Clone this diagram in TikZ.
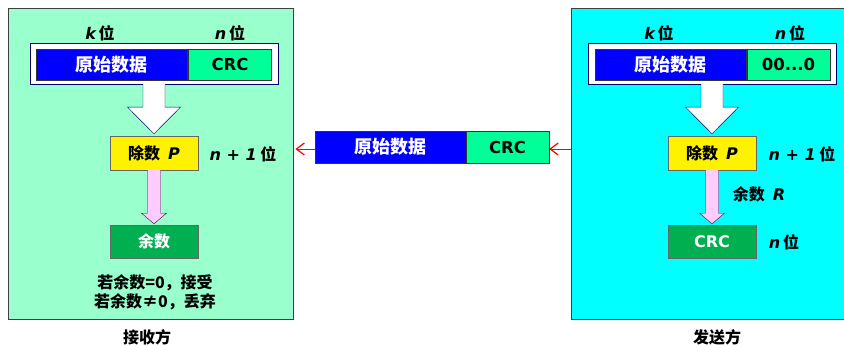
\documentclass[tikz,border=0pt]{standalone}
\usepackage{fontspec}
\setmainfont{Noto Sans CJK SC}
\newfontfamily\lat{DejaVu Sans}
\usetikzlibrary{calc,arrows.meta}
\definecolor{mint}{RGB}{153,255,204}
\definecolor{sendcyan}{RGB}{0,255,255}
\definecolor{crcgreen}{RGB}{0,255,153}
\definecolor{remgreen}{RGB}{0,176,80}
\definecolor{pinkish}{RGB}{255,204,255}
\newcommand\ivar[1]{{\lat\bfseries\itshape #1}}
\begin{document}
\begin{tikzpicture}[x=1pt,y=-1pt,font=\bfseries,
  panel/.style={draw=black!75,line width=0.8pt,inner sep=0pt},
  frame/.style={draw=blue!40!black,fill=white,minimum width=248pt,minimum height=41pt,inner sep=0pt},
  data/.style={draw=black!80,fill=blue,text=white,minimum width=151pt,minimum height=31pt,inner sep=0pt,font=\bfseries\fontsize{18}{20}\selectfont},
  crc/.style={draw=black!80,fill=crcgreen,minimum width=83pt,minimum height=31pt,inner sep=0pt,font=\lat\bfseries\fontsize{16.5}{20}\selectfont},
  divbox/.style={draw=black!60,fill=yellow,minimum width=88pt,minimum height=34pt,inner sep=0pt,font=\bfseries\fontsize{16}{18}\selectfont},
  rembox/.style={draw=black!60,fill=remgreen,text=white,minimum width=88pt,minimum height=33pt,inner sep=0pt,font=\bfseries\fontsize{16}{18}\selectfont},
  lbl/.style={font=\bfseries\fontsize{16}{18}\selectfont},
  bigarrow/.style={draw=blue!40!black,fill=white,line join=miter},
  pinkarrow/.style={draw=violet!60!black,fill=pinkish},
  sig/.style={draw=red,line width=1pt,-{Straight Barb[length=8pt,width=12pt,line width=1.2pt]}}]
\clip (0,0) rectangle (844,345);
\fill[white] (0,0) rectangle (844,345);

% the two sides
\node[panel,fill=mint,minimum width=285pt,minimum height=311pt] (lpanel) at (150.5,163.5) {};
\node[panel,fill=sendcyan,minimum width=276pt,minimum height=311pt] (rpanel) at (709,163.5) {};

% receiver
\node[frame] (lframe) at (154,63.5) {};
\node[data] (ldata) at (111.5,64.5) {原始数据};
\node[crc] (lcrc) at (230,64.5) {CRC};
\node[lbl] (lk) at (100,33) {\ivar{k}\,位};
\node[lbl] (ln) at (230,33) {\ivar{n}\,位};
\node[divbox] (ldiv) at (154,153) {除数\enspace\ivar{P}};
\node[lbl] (ldivlen) at (243,154) {\ivar{n + 1} 位};
\node[rembox] (lrem) at (154,241.5) {余数};
\node[align=center,font=\bfseries\fontsize{16}{19}\selectfont] (lrule) at (155,292.5) {若余数=0，接受\\若余数≠0，丢弃};
\node[lbl] (lside) at (147,337) {接收方};

% sender
\node[frame] (rframe) at (712,63.5) {};
\node[data] (rdata) at (670.5,64.5) {原始数据};
\node[crc] (rzero) at (788.5,64.5) {00...0};
\node[lbl] (rk) at (659,33) {\ivar{k}\,位};
\node[lbl] (rn) at (790,33) {\ivar{n}\,位};
\node[divbox] (rdiv) at (712,153) {除数\enspace\ivar{P}};
\node[lbl] (rdivlen) at (802,154) {\ivar{n + 1} 位};
\node[rembox] (rrem) at (712,241.5) {\lat\bfseries CRC};
\node[lbl] (rremlbl) at (759,194) {余数\enspace\ivar{R}};
\node[lbl] (rremlen) at (784,242) {\ivar{n}\,位};
\node[lbl] (rside) at (717,337) {发送方};

% frame sent over the link
\node[data,minimum height=32pt] (mdata) at (390.5,147) {原始数据};
\node[crc,minimum height=32pt] (mcrc) at (507.5,147) {CRC};

\foreach \s in {l,r} {
  \draw[bigarrow] ($(\s frame.south)+(-11,0)$) -- ++(0,23) -- ++(-15.5,0)
    -- ($(\s div.north)+(0,-2)$) -- ($(\s frame.south)+(26.5,23)$) -- ++(-15.5,0)
    -- ($(\s frame.south)+(11,0)$);
  \draw[pinkarrow] ($(\s div.south)+(-6.5,0)$) -- ++(0,43) -- ++(-6,0)
    -- ($(\s rem.north)+(0,-1)$) -- ($(\s div.south)+(12.5,43)$) -- ++(-6,0)
    -- ($(\s div.south)+(6.5,0)$);
}

\draw[sig] ($(mdata.west)+(0,2)$) -- ($(lpanel.east |- mdata.west)+(2,2)$);
\draw[sig] ($(rpanel.west |- mcrc.east)+(0,2)$) -- ($(mcrc.east)+(0,2)$);
\end{tikzpicture}
\end{document}
